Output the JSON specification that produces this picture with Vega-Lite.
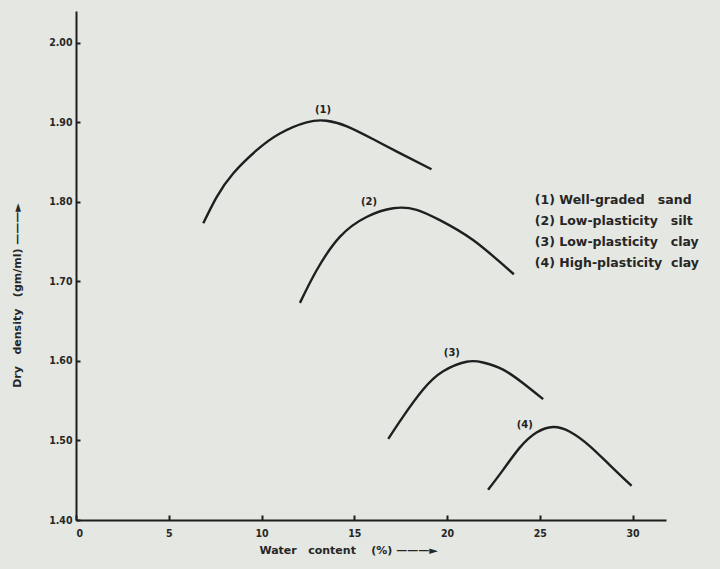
{
  "$schema": "https://vega.github.io/schema/vega-lite/v6.json",
  "width": 590,
  "height": 509,
  "autosize": {"type": "none"},
  "padding": {"left": 76, "top": 11, "right": 54, "bottom": 49},
  "background": "#e4e7e2",
  "config": {
    "view": {"stroke": null},
    "font": "DejaVu Sans",
    "axis": {
      "grid": false,
      "domainColor": "#1e1e1e",
      "domainWidth": 2,
      "tickColor": "#1e1e1e",
      "tickWidth": 2,
      "labelColor": "#262626",
      "titleColor": "#262626",
      "labelFont": "DejaVu Sans Condensed",
      "titleFont": "DejaVu Sans",
      "labelFontSize": 10.5,
      "labelFontWeight": "bold",
      "titleFontSize": 11,
      "titleFontWeight": "bold"
    }
  },
  "datasets": {
    "curves": [
      {"soil": "1", "w": 6.86, "d": 1.773},
      {"soil": "1", "w": 7.58, "d": 1.806},
      {"soil": "1", "w": 8.48, "d": 1.836},
      {"soil": "1", "w": 9.74, "d": 1.865},
      {"soil": "1", "w": 10.99, "d": 1.886},
      {"soil": "1", "w": 12.43, "d": 1.900},
      {"soil": "1", "w": 13.50, "d": 1.902},
      {"soil": "1", "w": 14.60, "d": 1.895},
      {"soil": "1", "w": 16.00, "d": 1.879},
      {"soil": "1", "w": 17.40, "d": 1.862},
      {"soil": "1", "w": 19.16, "d": 1.841},
      {"soil": "2", "w": 12.07, "d": 1.673},
      {"soil": "2", "w": 12.97, "d": 1.714},
      {"soil": "2", "w": 14.22, "d": 1.756},
      {"soil": "2", "w": 15.66, "d": 1.781},
      {"soil": "2", "w": 17.10, "d": 1.792},
      {"soil": "2", "w": 18.36, "d": 1.790},
      {"soil": "2", "w": 19.61, "d": 1.777},
      {"soil": "2", "w": 21.40, "d": 1.752},
      {"soil": "2", "w": 23.60, "d": 1.709},
      {"soil": "3", "w": 16.83, "d": 1.502},
      {"soil": "3", "w": 17.63, "d": 1.530},
      {"soil": "3", "w": 18.71, "d": 1.564},
      {"soil": "3", "w": 19.79, "d": 1.587},
      {"soil": "3", "w": 21.05, "d": 1.599},
      {"soil": "3", "w": 21.94, "d": 1.598},
      {"soil": "3", "w": 23.02, "d": 1.589},
      {"soil": "3", "w": 24.10, "d": 1.572},
      {"soil": "3", "w": 25.18, "d": 1.552},
      {"soil": "4", "w": 22.21, "d": 1.438},
      {"soil": "4", "w": 23.02, "d": 1.463},
      {"soil": "4", "w": 23.92, "d": 1.491},
      {"soil": "4", "w": 24.82, "d": 1.510},
      {"soil": "4", "w": 25.72, "d": 1.517},
      {"soil": "4", "w": 26.62, "d": 1.511},
      {"soil": "4", "w": 27.69, "d": 1.493},
      {"soil": "4", "w": 28.77, "d": 1.469},
      {"soil": "4", "w": 29.94, "d": 1.443}
    ],
    "tags": [
      {"w": 13.31, "d": 1.916, "t": "(1)"},
      {"w": 15.79, "d": 1.800, "t": "(2)"},
      {"w": 20.26, "d": 1.610, "t": "(3)"},
      {"w": 24.19, "d": 1.519, "t": "(4)"}
    ],
    "legend": [
      {"w": 24.73, "d": 1.8025, "t": "(1)\u00a0Well-graded\u00a0\u00a0\u00a0sand"},
      {"w": 24.73, "d": 1.776, "t": "(2)\u00a0Low-plasticity\u00a0\u00a0\u00a0silt"},
      {"w": 24.73, "d": 1.750, "t": "(3)\u00a0Low-plasticity\u00a0\u00a0\u00a0clay"},
      {"w": 24.73, "d": 1.723, "t": "(4)\u00a0High-plasticity\u00a0\u00a0clay"}
    ]
  },
  "encoding": {
    "x": {
      "field": "w",
      "type": "quantitative",
      "scale": {"domain": [0, 31.8], "nice": false, "zero": false},
      "axis": {
        "values": [0, 5, 10, 15, 20, 25, 30],
        "tickSize": -5,
        "labelPadding": 13,
        "title": "Water\u00a0\u00a0\u00a0content\u00a0\u00a0\u00a0\u00a0(%)\u00a0———►",
        "titleX": 272,
        "titleY": 24
      }
    },
    "y": {
      "field": "d",
      "type": "quantitative",
      "scale": {"domain": [1.4, 2.04], "nice": false, "zero": false},
      "axis": {
        "values": [1.4, 1.5, 1.6, 1.7, 1.8, 1.9, 2.0],
        "format": ".2f",
        "tickSize": -4,
        "labelPadding": 8,
        "title": "Dry\u00a0\u00a0\u00a0density\u00a0\u00a0\u00a0(gm/ml)\u00a0———►",
        "titleX": -54,
        "titleY": 284
      }
    }
  },
  "layer": [
    {
      "data": {"name": "curves"},
      "mark": {"type": "line", "interpolate": "natural", "color": "#1f1f1f", "strokeWidth": 2.4},
      "encoding": {"detail": {"field": "soil"}}
    },
    {
      "data": {"name": "tags"},
      "mark": {"type": "text", "fontSize": 10, "fontWeight": "bold", "color": "#222222", "baseline": "middle"},
      "encoding": {"text": {"field": "t"}}
    },
    {
      "data": {"name": "legend"},
      "mark": {"type": "text", "fontSize": 12.5, "fontWeight": "bold", "font": "DejaVu Sans", "color": "#262626", "align": "left", "baseline": "middle"},
      "encoding": {"text": {"field": "t"}}
    }
  ]
}
